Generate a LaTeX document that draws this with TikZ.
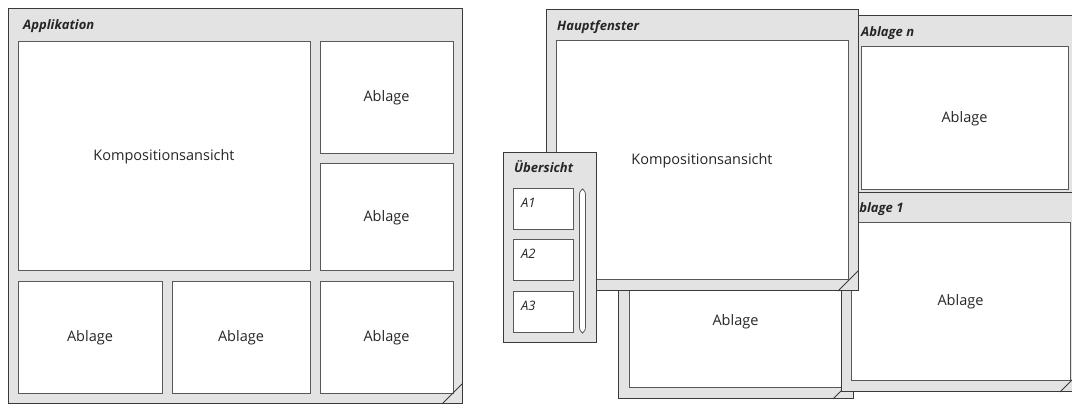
\documentclass[tikz,border=0pt]{standalone}
\usepackage{fontspec}
\setmainfont{Open Sans}
\usepackage{tikz}
\usetikzlibrary{positioning}
\definecolor{bandgray}{HTML}{E3E3E3}
\definecolor{edgex}{HTML}{3A3A3A}
\definecolor{paneedge}{HTML}{585858}
\definecolor{inkx}{HTML}{262626}
\tikzset{
  win/.style={draw=edgex,fill=bandgray,line width=1pt},
  pane/.style={draw=paneedge,fill=white,line width=1pt,inner sep=0pt,text=inkx,font=\fontsize{14.5}{17}\selectfont},
  ttl/.style={anchor=base west,inner sep=0pt,text=inkx,font=\fontsize{13}{15}\selectfont\bfseries\itshape},
  lbl/.style={anchor=base west,inner sep=0pt,text=inkx,font=\fontsize{13}{15}\selectfont\itshape}
}
% window frame with resize grip: x1 y1 x2 y2
\newcommand{\fenster}[4]{%
  \draw[win] (#1,#2) rectangle (#3,#4);
  \draw[edgex,line width=0.8pt] (#3-20,#4)--(#3,#4-20);}
% white field: name x1 y1 x2 y2 text
\newcommand{\feld}[6]{%
  \node[pane,minimum width={(#4-#2)*1pt},minimum height={(#5-#3)*1pt}] (#1) at ({(#2+#4)/2},{(#3+#5)/2}) {#6};}

\begin{document}
\begin{tikzpicture}[x=1pt,y=-1pt]
\useasboundingbox (0,0) rectangle (1072,419);
\clip (0,0) rectangle (1072,419);
% Applikation
\draw[win] (8,9) rectangle (462,404);
\node[ttl] (tApp) at (23,30) {Applikation};
\feld{komp}{18}{42}{310}{271}{Kompositionsansicht}
\feld{r1}{320}{42}{453}{154}{Ablage}
\feld{r2}{320}{164}{453}{271}{Ablage}
\feld{u1}{18}{282}{162}{394}{Ablage}
\feld{u2}{172}{282}{310}{394}{Ablage}
\feld{u3}{320}{282}{453}{394}{Ablage}
\draw[edgex,line width=0.8pt] (442,404)--(462,384);
% Ablage n
\fenster{851}{16}{1078}{212}
\node[ttl] (tAn) at (861,37) {Ablage n};
\feld{an}{861}{47}{1068}{190}{Ablage}
% Ablage unten
\fenster{618}{226}{853}{399}
\feld{au}{629}{256}{842}{388}{Ablage}
% Ablage 1
\fenster{841}{193}{1080}{392}
\node[ttl] (tA1) at (851,213) {Ablage 1};
\feld{a1}{851}{223}{1070}{381}{Ablage}
% Hauptfenster
\fenster{546}{10}{858}{291}
\node[ttl] (tHf) at (557,31) {Hauptfenster};
\feld{hkomp}{556}{41}{848}{280}{Kompositionsansicht}
% Uebersicht
\draw[win] (503,153) rectangle (596,343);
\node[ttl] (tUe) at (514,173) {Übersicht};
\foreach \i/\y in {1/189,2/240,3/292}{
  \feld{th\i}{513}{\y}{573}{\y+41}{}
  \node[lbl] (lA\i) at ([xshift=8.5pt,yshift=-19pt]th\i.north west) {A\i};
}
\draw[paneedge,fill=white,line width=0.8pt] (582.5,189) .. controls (585.5,192) .. (585.5,198) -- (585.5,324)
  .. controls (585.5,330) .. (582.5,333) .. controls (579.5,330) .. (579.5,324) -- (579.5,198)
  .. controls (579.5,192) .. (582.5,189) -- cycle;
\end{tikzpicture}
\end{document}
